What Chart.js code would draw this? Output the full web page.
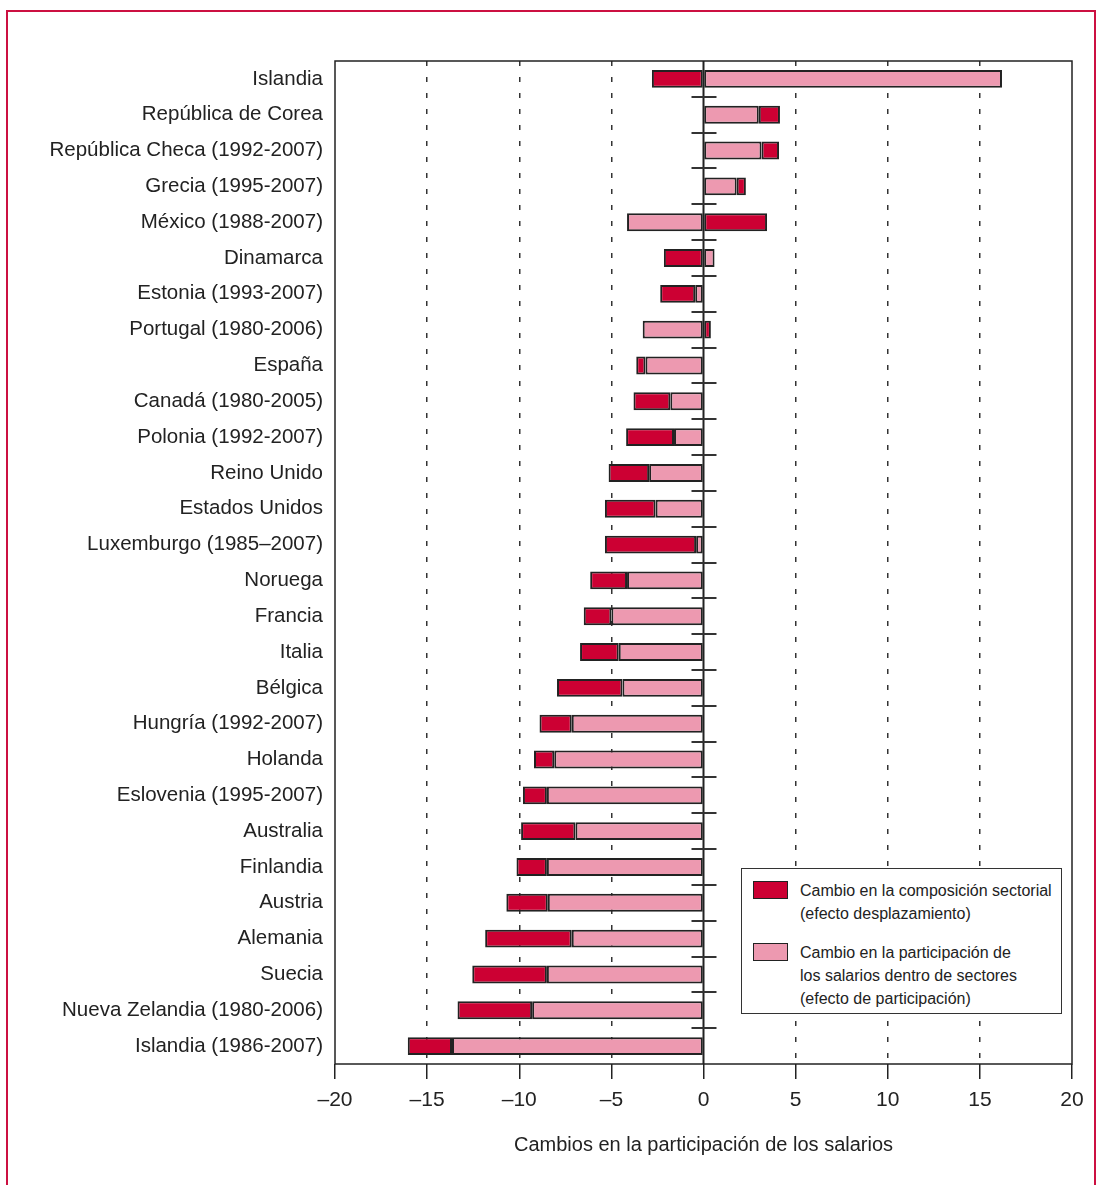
<!DOCTYPE html>
<html lang="es">
<head>
<meta charset="utf-8">
<title>Cambios en la participación de los salarios</title>
<script src="https://cdn.jsdelivr.net/npm/chart.js@4.4.1/dist/chart.umd.min.js"></script>
<style>
    html, body { margin: 0; padding: 0; background: #fff; }
    .page { position: relative; width: 1097px; height: 1185px; overflow: hidden; font-family: 'Liberation Sans', Arial, sans-serif; }
    .frame { position: absolute; left: 6px; top: 10px; width: 1090px; height: 1200px; border: 2px solid #cc1041; box-sizing: border-box; }
    .chart-wrap { position: absolute; left: 0; top: 0; width: 1097px; height: 1185px; }
    .legend { position: absolute; left: 741px; top: 868px; width: 321px; height: 146px; box-sizing: border-box;
        border: 1.5px solid #333; background: #fff; color: #222; font-size: 16px; line-height: 23px; }
    .legend .item { position: absolute; left: 58px; }
    .legend .swatch { position: absolute; left: -47px; top: 2px; width: 35px; height: 18px; box-sizing: border-box; border: 1.5px solid #222; }
</style>
</head>
<body>
<div class="page">
    <div class="frame"></div>
    <div class="chart-wrap"><canvas id="wageChart"></canvas></div>
    <div class="legend" id="legend"></div>
</div>
<script>
// Countries, top to bottom
const countries = [
    'Islandia', 'República de Corea', 'República Checa (1992-2007)', 'Grecia (1995-2007)',
    'México (1988-2007)', 'Dinamarca', 'Estonia (1993-2007)', 'Portugal (1980-2006)',
    'España', 'Canadá (1980-2005)', 'Polonia (1992-2007)', 'Reino Unido',
    'Estados Unidos', 'Luxemburgo (1985–2007)', 'Noruega', 'Francia',
    'Italia', 'Bélgica', 'Hungría (1992-2007)', 'Holanda',
    'Eslovenia (1995-2007)', 'Australia', 'Finlandia', 'Austria',
    'Alemania', 'Suecia', 'Nueva Zelandia (1980-2006)', 'Islandia (1986-2007)'
];

// Efecto de participación (pink, next to zero)
const withinSectors = [
    16.2, 3.0, 3.15, 1.8,
    -4.15, 0.6, -0.45, -3.3,
    -3.15, -1.8, -1.6, -2.95,
    -2.6, -0.4, -4.15, -5.0,
    -4.6, -4.4, -7.15, -8.1,
    -8.5, -6.95, -8.5, -8.45,
    -7.15, -8.5, -9.3, -13.65
];

// Efecto desplazamiento (dark red, stacked beyond)
const sectoralShift = [
    -2.8, 1.15, 0.95, 0.5,
    3.45, -2.15, -1.9, 0.4,
    -0.5, -2.0, -2.6, -2.2,
    -2.75, -4.95, -2.0, -1.5,
    -2.1, -3.55, -1.75, -1.1,
    -1.3, -2.95, -1.65, -2.25,
    -4.7, -4.05, -4.05, -2.4
];

const shiftLegend = ['Cambio en la composición sectorial', '(efecto desplazamiento)'];
const withinLegend = ['Cambio en la participación de', 'los salarios dentro de sectores', '(efecto de participación)'];
const xTitle = 'Cambios en la participación de los salarios';
const xMin = -20, xMax = 20, xStep = 5;

const RED = '#cc0033';
const PINK = '#ed99b0';
const INK = '#222';
const FONT = "'Liberation Sans', Arial, sans-serif";

// Box round the plot, solid zero line, and the little ticks between rows at zero
const framePlugin = {
    id: 'framePlugin',
    afterDatasetsDraw(chart) {
        const { ctx, chartArea: a, scales: { x, y } } = chart;
        const x0 = x.getPixelForValue(0);
        ctx.save();
        ctx.strokeStyle = INK;
        ctx.lineWidth = 2;
        ctx.beginPath();
        ctx.moveTo(x0, a.top);
        ctx.lineTo(x0, a.bottom);
        ctx.stroke();

        ctx.strokeStyle = '#333';
        for (let i = 0; i < countries.length - 1; i++) {
            const yy = Math.round(y.getPixelForValue(i + 0.5));
            ctx.beginPath();
            ctx.moveTo(x0 - 12, yy);
            ctx.lineTo(x0 + 13, yy);
            ctx.stroke();
        }

        ctx.strokeStyle = INK;
        ctx.lineWidth = 1.5;
        ctx.strokeRect(a.left, a.top, a.right - a.left, a.bottom - a.top);
        ctx.restore();
    }
};

const chart = new Chart(document.getElementById('wageChart'), {
    type: 'bar',
    data: {
        labels: countries,
        datasets: [
            {
                label: withinLegend.join(' '),
                data: withinSectors,
                backgroundColor: PINK,
                borderColor: INK,
                borderWidth: 2,
                borderSkipped: false,
                barPercentage: 0.5,
                categoryPercentage: 1
            },
            {
                label: shiftLegend.join(' '),
                data: sectoralShift,
                backgroundColor: RED,
                borderColor: INK,
                borderWidth: 2,
                borderSkipped: false,
                barPercentage: 0.5,
                categoryPercentage: 1
            }
        ]
    },
    options: {
        indexAxis: 'y',
        responsive: true,
        maintainAspectRatio: false,
        animation: false,
        layout: { padding: { top: 61, right: 25, left: 0, bottom: 0 } },
        plugins: {
            legend: { display: false },
            tooltip: { enabled: false }
        },
        scales: {
            x: {
                stacked: true,
                min: xMin,
                max: xMax,
                afterFit(scale) { scale.height = 121; },
                ticks: {
                    stepSize: xStep,
                    color: INK,
                    padding: 9,
                    font: { family: FONT, size: 21 },
                    callback: v => (v < 0 ? '\u2013' + Math.abs(v) : String(v))
                },
                grid: {
                    color: c => (c.tick && (c.tick.value === 0 || Math.abs(c.tick.value) === 20) ? 'rgba(0,0,0,0)' : '#333'),
                    lineWidth: 1.5,
                    tickColor: INK,
                    tickWidth: 1.5,
                    tickLength: 15
                },
                border: { display: false, dash: [5, 11] },
                title: {
                    display: true,
                    text: xTitle,
                    color: INK,
                    padding: { top: 0, bottom: 28 },
                    font: { family: FONT, size: 20 }
                }
            },
            y: {
                stacked: true,
                afterFit(scale) { scale.width = 335; },
                ticks: {
                    color: INK,
                    padding: 12,
                    autoSkip: false,
                    font: { family: FONT, size: 20.5 }
                },
                grid: { display: false, drawTicks: false },
                border: { display: false }
            }
        }
    },
    plugins: [framePlugin]
});

// Legend inside the plot, built from the label lines
const legendEl = document.getElementById('legend');
[[shiftLegend, RED, 10], [withinLegend, PINK, 72]].forEach(([lines, color, top]) => {
    const item = document.createElement('div');
    item.className = 'item';
    item.style.top = top + 'px';
    item.innerHTML = '<span class="swatch" style="background:' + color + '"></span>' + lines.join('<br>');
    legendEl.appendChild(item);
});
</script>
</body>
</html>
